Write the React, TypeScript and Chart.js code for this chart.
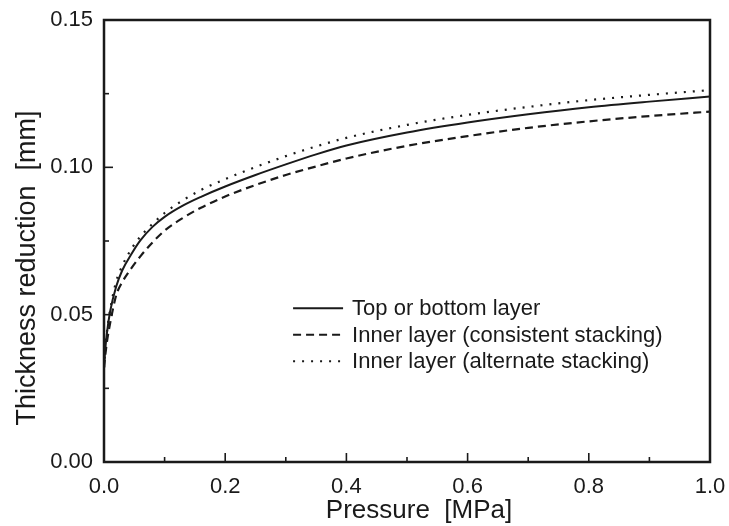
import React, { useEffect, useRef } from "react";
import { Chart, registerables } from "chart.js";

Chart.register(...registerables);

const pressure = [0, 0.002, 0.005, 0.01, 0.02, 0.03, 0.045, 0.06, 0.08, 0.1, 0.13, 0.16, 0.2, 0.25, 0.3, 0.35, 0.4, 0.5, 0.6, 0.7, 0.8, 0.9, 1.0];
const topBottom = [0.032, 0.038, 0.044, 0.051, 0.0595, 0.065, 0.0705, 0.0752, 0.0798, 0.0832, 0.087, 0.09, 0.0935, 0.0974, 0.101, 0.1044, 0.1074, 0.1118, 0.1152, 0.118, 0.1204, 0.1223, 0.124];
const innerConsistent = [0.032, 0.036, 0.041, 0.047, 0.0565, 0.061, 0.0657, 0.0698, 0.0745, 0.0785, 0.0828, 0.0863, 0.0901, 0.094, 0.0974, 0.1003, 0.103, 0.1073, 0.1106, 0.1134, 0.1156, 0.1174, 0.1189];
const innerAlternate = [0.032, 0.038, 0.0445, 0.0515, 0.0612, 0.0665, 0.0722, 0.0765, 0.0808, 0.0845, 0.0888, 0.0923, 0.096, 0.1001, 0.1038, 0.1071, 0.11, 0.1144, 0.1178, 0.1205, 0.1228, 0.1246, 0.1262];

const seriesLabels = ["Top or bottom layer", "Inner layer (consistent stacking)", "Inner layer (alternate stacking)"];
const xTitle = "Pressure  [MPa]";
const yTitle = "Thickness reduction  [mm]";
const xTickValues = [0, 0.1, 0.2, 0.3, 0.4, 0.5, 0.6, 0.7, 0.8, 0.9, 1.0];
const yTickValues = [0, 0.025, 0.05, 0.075, 0.1, 0.125, 0.15];

const FONT = "'Liberation Sans', Arial, Helvetica, sans-serif";
const INK = "#1a1a1a";
const dashes: number[][] = [[], [8, 5], [2, 7]];

const framePlugin = {
  id: "frameTicks",
  afterDatasetsDraw(chart: any) {
    const { ctx, chartArea } = chart;
    const { left, right, top, bottom } = chartArea;
    const xs = chart.scales.x;
    const ys = chart.scales.y;
    ctx.save();
    ctx.strokeStyle = INK;
    ctx.lineWidth = 1.6;
    ctx.setLineDash([]);
    xTickValues.forEach((v, i) => {
      const px = xs.getPixelForValue(v);
      const len = i % 2 === 0 ? 9 : 5;
      ctx.beginPath();
      ctx.moveTo(px, bottom);
      ctx.lineTo(px, bottom - len);
      ctx.stroke();
    });
    yTickValues.forEach((v, i) => {
      const py = ys.getPixelForValue(v);
      const len = i % 2 === 0 ? 9 : 5;
      ctx.beginPath();
      ctx.moveTo(left, py);
      ctx.lineTo(left + len, py);
      ctx.stroke();
    });
    ctx.lineWidth = 2.5;
    ctx.strokeRect(left, top, right - left, bottom - top);

    // legend
    const lx = left + (right - left) * 0.312;
    const ly = top + (bottom - top) * 0.652;
    ctx.font = `22px ${FONT}`;
    ctx.textBaseline = "middle";
    ctx.textAlign = "left";
    ctx.fillStyle = INK;
    seriesLabels.forEach((lab, i) => {
      const y = ly + i * 26.5;
      ctx.beginPath();
      ctx.lineWidth = 2;
      ctx.setLineDash(dashes[i]);
      ctx.moveTo(lx, y);
      ctx.lineTo(lx + 50, y);
      ctx.stroke();
      ctx.setLineDash([]);
      ctx.fillText(lab, lx + 59, y + 1);
    });

    // axis titles
    ctx.font = `26px ${FONT}`;
    ctx.textAlign = "center";
    ctx.textBaseline = "alphabetic";
    ctx.fillText(xTitle, (left + right) / 2 + 12, bottom + 56);
    ctx.save();
    ctx.font = `27px ${FONT}`;
    ctx.translate(35, (top + bottom) / 2 + 27);
    ctx.rotate(-Math.PI / 2);
    ctx.fillText(yTitle, 0, 0);
    ctx.restore();
    ctx.restore();
  },
};

export default function App() {
  const ref = useRef<HTMLCanvasElement | null>(null);
  useEffect(() => {
    if (!ref.current) return;
    const mk = (ys: number[]) => pressure.map((x, i) => ({ x, y: ys[i] }));
    const chart = new Chart(ref.current, {
      type: "line",
      data: {
        datasets: [topBottom, innerConsistent, innerAlternate].map((d, i) => ({
          label: seriesLabels[i],
          data: mk(d),
          borderColor: INK,
          borderWidth: i === 0 ? 2 : 2.2,
          borderDash: dashes[i],
          pointRadius: 0,
          cubicInterpolationMode: "monotone",
          fill: false,
        })),
      },
      options: {
        animation: false,
        responsive: false,
        events: [],
        layout: { padding: { top: 20, right: 19, left: 0, bottom: 0 } },
        plugins: { legend: { display: false }, tooltip: { enabled: false } },
        scales: {
          x: {
            type: "linear",
            min: 0,
            max: 1,
            grid: { display: false, drawTicks: false },
            border: { display: false },
            ticks: {
              stepSize: 0.2,
              padding: 12,
              color: INK,
              font: { family: FONT, size: 22 },
              callback: (v: any) => Number(v).toFixed(1),
            },
            afterFit: (s: any) => { s.height = 64; s.paddingLeft = 0; s.paddingRight = 0; },
          },
          y: {
            type: "linear",
            min: 0,
            max: 0.15,
            grid: { display: false, drawTicks: false },
            border: { display: false },
            ticks: {
              stepSize: 0.05,
              padding: 11,
              color: INK,
              font: { family: FONT, size: 22 },
              callback: (v: any) => Number(v).toFixed(2),
            },
            afterFit: (s: any) => { s.width = 104; s.paddingTop = 0; s.paddingBottom = 0; },
          },
        },
      },
      plugins: [framePlugin],
    });
    return () => chart.destroy();
  }, []);
  return (
    <div style={{ position: "absolute", left: 0, top: 0, width: 729, height: 526, background: "#fff" }}>
      <canvas ref={ref} width={729} height={526} style={{ width: 729, height: 526 }} />
    </div>
  );
}
